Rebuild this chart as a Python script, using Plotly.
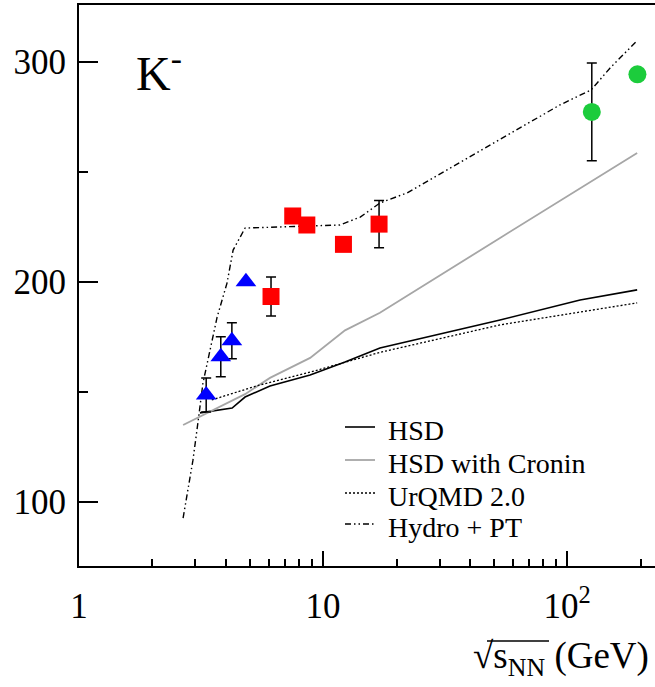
import plotly.graph_objects as go

# ---------------- data ----------------
hsd_x = [3.13, 4.24, 4.79, 6.06, 8.85, 12.3, 17.1, 53.1, 113, 193.6]
hsd_y = [140.5, 142.7, 147.7, 152.7, 157.7, 163.6, 170.0, 182.7, 191.8, 196.4]

cronin_x = [2.67, 3.44, 4.79, 6.06, 8.85, 12.3, 17.1, 53.1, 124, 193.6]
cronin_y = [135.0, 141.0, 149.0, 156.4, 165.5, 178.0, 186.0, 220.0, 245.5, 258.6]

urqmd_x = [3.5, 5.5, 8.85, 17.1, 53.1, 113, 193.6]
urqmd_y = [146.4, 153.2, 159.0, 168.0, 180.5, 186.4, 190.5]

hydro_x = [2.67, 2.93, 3.07, 3.22, 3.68, 4.04, 4.28, 4.79, 11.7, 14.2, 17.1,
           22.1, 93.5, 125.4, 150, 193.6]
hydro_y = [92.7, 119.0, 135.9, 154.0, 184.0, 199.5, 214.5, 224.5, 225.9, 229.5,
           235.9, 240.5, 280.5, 287.3, 297.3, 309.7]

ags_x = [3.32, 3.81, 4.23, 4.83]
ags_y = [148.6, 166.0, 173.3, 200.1]
ags_err = [7.7, 9.1, 8.2, 0]

sps_x = [6.12, 7.51, 8.58, 12.12, 16.96]
sps_y = [193.4, 230.0, 225.9, 217.1, 226.3]
sps_err = [8.9, 0, 0, 0, 10.7]

rhic_x = [126.2, 194.1]
rhic_y = [277.3, 294.4]
rhic_err = [22.2, 0]

legend_names = ["HSD", "HSD with Cronin", "UrQMD 2.0", "Hydro + PT"]

x_tickvals = [1, 10, 100]
x_ticktext = ["1", "10", "10<sup>2</sup>"]
x_minor = [2, 3, 4, 5, 6, 7, 8, 9, 20, 30, 40, 50, 60, 70, 80, 90, 200]
y_tickvals = [100, 200, 300]
y_minor = [150, 250]

FONT = "Liberation Serif, Times New Roman, serif"
GRAY = "#a6a6a6"
hydro_dash = "6px,3px,1.5px,3px,1.5px,3px"

fig = go.Figure()

line_styles = [
    dict(color="black", width=1.6),
    dict(color=GRAY, width=1.8),
    dict(color="black", width=1.3, dash="2px,2px"),
    dict(color="black", width=1.4, dash=hydro_dash),
]
curves = [(hsd_x, hsd_y), (cronin_x, cronin_y), (urqmd_x, urqmd_y), (hydro_x, hydro_y)]
for (cx, cy), ls, nm in zip(curves, line_styles, legend_names):
    fig.add_trace(go.Scatter(x=cx, y=cy, mode="lines", line=ls, name=nm,
                             showlegend=False))

err_style = dict(type="data", color="black", thickness=1.5, width=5, visible=True)
fig.add_trace(go.Scatter(x=ags_x, y=ags_y, mode="markers", showlegend=False,
                         marker=dict(symbol="triangle-up", size=18, color="#0000ff"),
                         error_y=dict(array=ags_err, **err_style)))
fig.add_trace(go.Scatter(x=sps_x, y=sps_y, mode="markers", showlegend=False,
                         marker=dict(symbol="square", size=17, color="#ff0000"),
                         error_y=dict(array=sps_err, **err_style)))
fig.add_trace(go.Scatter(x=rhic_x, y=rhic_y, mode="markers", showlegend=False,
                         marker=dict(symbol="circle", size=18, color="#1ccc3c"),
                         error_y=dict(array=rhic_err, **err_style)))

# ---------------- layout ----------------
W, H = 655, 687
L, R, T, B = 79, 0, 5, 121
pw, ph = W - L - R, H - T - B


def px_x(p):
    return (p - L) / pw


def px_y(p):
    return (H - B - p) / ph


annotations = []
shapes = []
# legend (manual)
leg_y = [427, 460, 493, 524]
for nm, ls, yy in zip(legend_names, line_styles, leg_y):
    shapes.append(dict(type="line", xref="paper", yref="paper",
                       x0=px_x(345), x1=px_x(375), y0=px_y(yy), y1=px_y(yy),
                       line=ls))
    annotations.append(dict(text=nm, xref="paper", yref="paper",
                            x=px_x(386), y=px_y(yy + 3), xanchor="left",
                            yanchor="middle", showarrow=False,
                            font=dict(family=FONT, size=28, color="black")))

# particle label
annotations.append(dict(text="K<sup>-</sup>", xref="paper", yref="paper",
                        x=px_x(134), y=px_y(70), xanchor="left", yanchor="middle",
                        showarrow=False,
                        font=dict(family=FONT, size=48, color="black")))
# axis title
annotations.append(dict(text="√s<sub>NN</sub> (GeV)", xref="paper", yref="paper",
                        x=px_x(471), y=px_y(658), xanchor="left", yanchor="middle",
                        showarrow=False,
                        font=dict(family=FONT, size=37, color="black")))
shapes.append(dict(type="line", xref="paper", yref="paper",
                   x0=px_x(487), x1=px_x(549), y0=px_y(641), y1=px_y(641),
                   line=dict(color="black", width=1.5)))

fig.update_layout(
    width=W, height=H,
    margin=dict(l=L, r=R, t=T, b=B, pad=0),
    paper_bgcolor="white", plot_bgcolor="white",
    showlegend=False,
    annotations=annotations,
    shapes=shapes,
    font=dict(family=FONT, color="black"),
)
fig.update_xaxes(
    type="log", range=[0, 2.36],
    showgrid=False, zeroline=False,
    showline=True, linecolor="black", linewidth=2, mirror=True,
    ticks="inside", ticklen=15, tickwidth=1.5, tickcolor="black",
    tickvals=x_tickvals, ticktext=x_ticktext,
    tickfont=dict(family=FONT, size=35, color="black"),
    ticklabelstandoff=8,
    minor=dict(tickvals=x_minor, ticks="inside", ticklen=7, tickwidth=1.5,
               tickcolor="black", showgrid=False),
)
fig.update_yaxes(
    range=[70.9, 325.9],
    showgrid=False, zeroline=False,
    showline=True, linecolor="black", linewidth=2,
    ticks="inside", ticklen=19, tickwidth=1.5, tickcolor="black",
    tickvals=y_tickvals,
    tickfont=dict(family=FONT, size=35, color="black"),
    ticklabelstandoff=4,
    minor=dict(tickvals=y_minor, ticks="inside", ticklen=9, tickwidth=1.5,
               tickcolor="black", showgrid=False),
)

fig.write_html("out.html")
